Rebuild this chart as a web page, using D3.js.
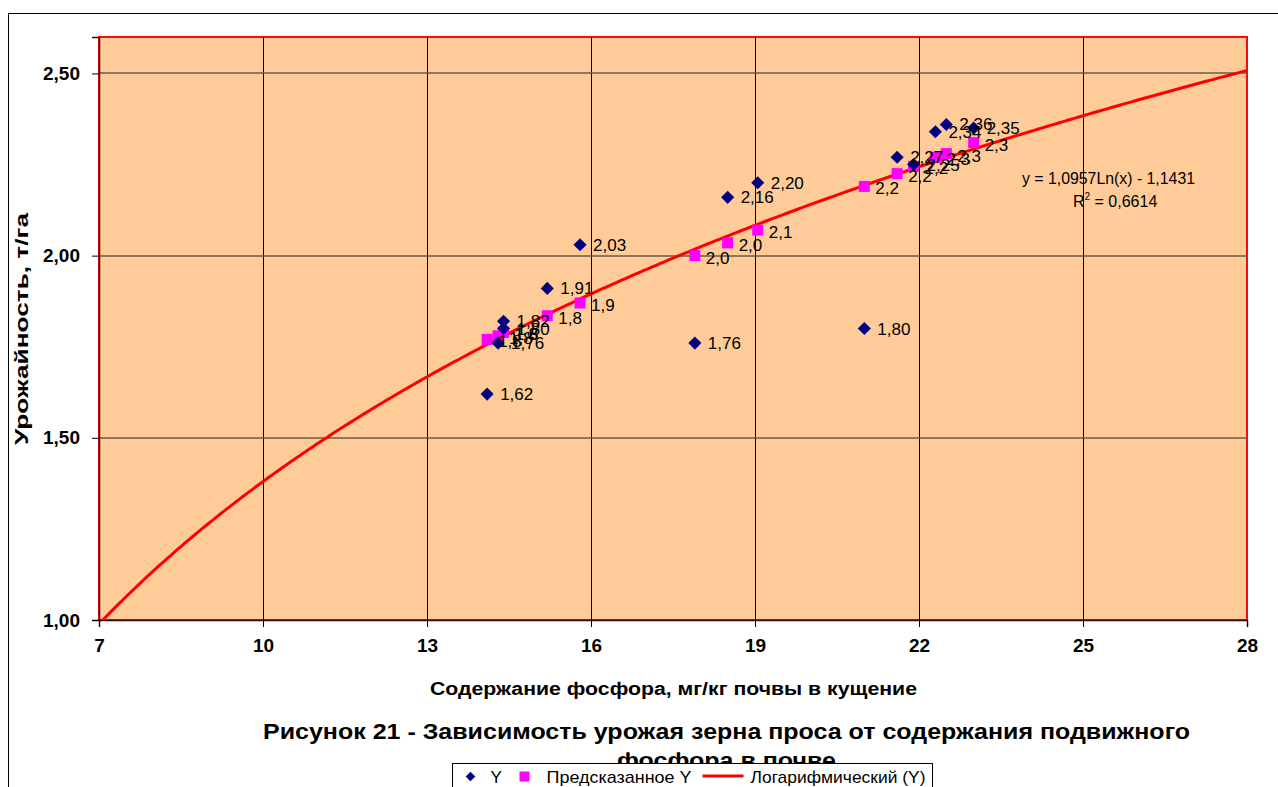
<!DOCTYPE html>
<html>
<head>
<meta charset="utf-8">
<script src="https://d3js.org/d3.v7.min.js"></script>
<style>
body { margin: 0; background: #fff; }
text { font-family: "Liberation Sans", Arial, sans-serif; fill: #000; }
.tick text { font-size: 19px; font-weight: bold; }
.lbl { font-size: 17px; }
</style>
</head>
<body>
<svg id="chart" width="1278" height="787"></svg>
<script>
// фактические значения (Y)
var phosX = [14.1, 14.3, 14.4, 14.4, 15.2, 15.8, 17.9, 18.5, 19.05, 21.0, 21.6, 21.9, 22.3, 22.5, 23.0];
var yieldY = [1.62, 1.76, 1.82, 1.80, 1.91, 2.03, 1.76, 2.16, 2.20, 1.80, 2.27, 2.25, 2.34, 2.36, 2.35];
// предсказанное Y
var predY = [1.77, 1.78, 1.79, 1.79, 1.835, 1.87, 2.00, 2.035, 2.07, 2.19, 2.225, 2.245, 2.27, 2.28, 2.31];
var xTicks = [7, 10, 13, 16, 19, 22, 25, 28];
var yTicks = [1.0, 1.5, 2.0, 2.5];
// логарифмический тренд y = a*ln(x) + b
var trendA = 1.0957, trendB = -1.1431;

var svg = d3.select("#chart");
var pLeft = 99, pRight = 1247, pTop = 37, pBottom = 620;

var x = d3.scaleLinear().domain([7, 28]).range([pLeft, pRight]);
var y = d3.scaleLinear().domain([1.0, 2.6]).range([pBottom, pTop]);
var comma = function(f) { return function(d) { return d3.format(f)(d).replace(".", ","); }; };

// outer frame
svg.append("rect").attr("x", 8.5).attr("y", 13.5).attr("width", 1300).attr("height", 800)
    .attr("fill", "#fff").attr("stroke", "#000");

// plot area
svg.append("rect").attr("x", pLeft).attr("y", pTop).attr("width", pRight - pLeft).attr("height", pBottom - pTop)
    .attr("fill", "#FFCC99").attr("stroke", "#ee1111").attr("stroke-width", 2);

// grid
svg.append("g").selectAll("line").data(xTicks.slice(1, -1)).enter().append("line")
    .attr("x1", function(d) { return Math.round(x(d)) + 0.5; })
    .attr("x2", function(d) { return Math.round(x(d)) + 0.5; })
    .attr("y1", pTop).attr("y2", pBottom).attr("stroke", "#000");
svg.append("g").selectAll("line").data(yTicks.slice(1)).enter().append("line")
    .attr("x1", pLeft).attr("x2", pRight)
    .attr("y1", function(d) { return Math.round(y(d)); })
    .attr("y2", function(d) { return Math.round(y(d)); })
    .attr("stroke", "#6b5a4c").attr("stroke-width", 1.5);

// axes
svg.append("g").attr("transform", "translate(0," + pBottom + ")")
    .call(d3.axisBottom(x).tickValues(xTicks).tickSize(7).tickPadding(12));
svg.append("g").attr("transform", "translate(" + pLeft + ",0)")
    .call(d3.axisLeft(y).tickValues(yTicks).tickSize(7).tickPadding(12).tickFormat(comma(".2f")));
svg.selectAll(".domain").attr("stroke", "#400000").attr("stroke-width", 1.5);
svg.selectAll(".tick line").attr("stroke", "#000");

// trendline
var xStart = Math.exp((1.0 - trendB) / trendA);
var trendPts = d3.range(xStart, 28, 0.05).map(function(v) { return [v, trendA * Math.log(v) + trendB]; });
trendPts.push([28, trendA * Math.log(28) + trendB]);
svg.append("path").datum(trendPts)
    .attr("fill", "none").attr("stroke", "#ff0000").attr("stroke-width", 3)
    .attr("d", d3.line().x(function(d) { return x(d[0]); }).y(function(d) { return y(d[1]); }));

var diamond = d3.symbol().type(d3.symbolDiamond2).size(110);

// predicted points (squares)
svg.append("g").selectAll("rect").data(predY).enter().append("rect")
    .attr("x", function(d, i) { return x(phosX[i]) - 5.5; })
    .attr("y", function(d) { return y(d) - 5.5; })
    .attr("width", 11).attr("height", 11).attr("fill", "#ff00ff");

// actual points (diamonds)
svg.append("g").selectAll("path").data(yieldY).enter().append("path")
    .attr("transform", function(d, i) { return "translate(" + x(phosX[i]) + "," + y(d) + ")"; })
    .attr("d", diamond).attr("fill", "#000080");

// data labels
svg.append("g").selectAll("text").data(yieldY).enter().append("text").attr("class", "lbl")
    .attr("x", function(d, i) { return x(phosX[i]) + 13; })
    .attr("y", function(d) { return y(d) + 6; })
    .text(comma(".2f"));
svg.append("g").selectAll("text").data(predY).enter().append("text").attr("class", "lbl")
    .attr("x", function(d, i) { return x(phosX[i]) + 11; })
    .attr("y", function(d) { return y(d) + 8; })
    .text(comma(".1f"));

// equation
svg.append("text").attr("x", 1022).attr("y", 184).style("font-size", "16px")
    .attr("textLength", 173).attr("lengthAdjust", "spacingAndGlyphs")
    .text("y = 1,0957Ln(x) - 1,1431");
var r2 = svg.append("text").attr("x", 1073).attr("y", 207).style("font-size", "16px");
r2.append("tspan").text("R");
r2.append("tspan").attr("dy", -7).style("font-size", "10px").text("2");
r2.append("tspan").attr("dy", 7).text(" = 0,6614");

// axis titles
svg.append("text").attr("x", 430).attr("y", 695)
    .style("font-size", "18px").style("font-weight", "bold")
    .attr("textLength", 487).attr("lengthAdjust", "spacingAndGlyphs")
    .text("Содержание фосфора, мг/кг почвы в кущение");
svg.append("text").attr("transform", "translate(28,445) rotate(-90)")
    .style("font-size", "18px").style("font-weight", "bold")
    .attr("textLength", 232).attr("lengthAdjust", "spacingAndGlyphs")
    .text("Урожайность, т/га");

// caption
svg.append("text").attr("x", 263).attr("y", 739)
    .style("font-size", "22px").style("font-weight", "bold")
    .attr("textLength", 927).attr("lengthAdjust", "spacingAndGlyphs")
    .text("Рисунок 21 - Зависимость урожая зерна проса от содержания подвижного");
svg.append("text").attr("x", 617).attr("y", 768)
    .style("font-size", "22px").style("font-weight", "bold")
    .attr("textLength", 219).attr("lengthAdjust", "spacingAndGlyphs")
    .text("фосфора в почве");

// legend
var lg = svg.append("g").attr("transform", "translate(452.5,763.5)");
lg.append("rect").attr("width", 480).attr("height", 40).attr("fill", "#fff").attr("stroke", "#000");
lg.append("path").attr("transform", "translate(18,13)").attr("d", d3.symbol().type(d3.symbolDiamond2).size(60)).attr("fill", "#000080");
lg.append("text").attr("class", "lbl").attr("x", 38).attr("y", 19).text("Y");
lg.append("rect").attr("x", 67).attr("y", 8).attr("width", 10).attr("height", 10).attr("fill", "#ff00ff");
lg.append("text").attr("class", "lbl").attr("x", 94).attr("y", 19).attr("textLength", 145).attr("lengthAdjust", "spacingAndGlyphs").text("Предсказанное Y");
lg.append("line").attr("x1", 250).attr("x2", 291).attr("y1", 12.5).attr("y2", 12.5).attr("stroke", "#ff0000").attr("stroke-width", 3);
lg.append("text").attr("class", "lbl").attr("x", 298).attr("y", 19).attr("textLength", 175).attr("lengthAdjust", "spacingAndGlyphs").text("Логарифмический (Y)");
</script>
</body>
</html>
